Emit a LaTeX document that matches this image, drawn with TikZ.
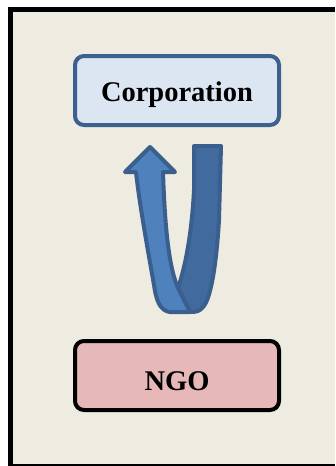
\documentclass[tikz,border=0pt]{standalone}
\usepackage{fontspec}
\setmainfont{Liberation Serif}
\definecolor{bg}{HTML}{EEEBE0}
\definecolor{corpfill}{HTML}{DCE6F2}
\definecolor{corpline}{HTML}{3C6090}
\definecolor{ngofill}{HTML}{E6B8B7}
\definecolor{arrlight}{HTML}{4F81BD}
\definecolor{arrdark}{HTML}{416A9E}
\definecolor{arrline}{HTML}{3A5F8E}
\tikzset{
  box/.style={rectangle, rounded corners=9pt, line width=4pt, minimum width=204pt, minimum height=69pt, font=\bfseries\fontsize{28.5}{30}\selectfont, inner sep=0pt, text depth=0pt},
  band/.style={draw=arrline, line width=4pt, line join=round}
}
\begin{document}
\begin{tikzpicture}[x=1pt,y=-1pt]
\useasboundingbox (0,0) rectangle (335,466);
\fill[white] (0,0) rectangle (335,466);
\fill[black] (8,7) rectangle (335,466);
\fill[bg] (13,12) rectangle (335,464);
\node[box, draw=corpline, fill=corpfill, text height=22pt] (corp) at (177,90.5) {Corporation};
\node[box, draw=black, fill=ngofill, text height=29pt] (ngo) at (177,375.5) {NGO};
% back (dark) arm of the U-turn arrow
\filldraw[band, fill=arrdark] (194,146) -- (221,146) -- (219,220)
  .. controls (216,270) and (210,300) .. (203,307)
  .. controls (200,311) and (197,312) .. (190,312)
  -- (178,288)
  .. controls (186,265) and (192,230) .. (194,190) -- cycle;
% front (light) arm with arrow head
\filldraw[band, fill=arrlight] (150,147) -- (175,172) -- (163,172)
  .. controls (165,235) and (170,270) .. (178,288)
  -- (190,312) -- (170,312)
  .. controls (160,311) and (156,300) .. (154,285)
  .. controls (146,240) and (139,200) .. (136,172)
  -- (125,172) -- cycle;
\end{tikzpicture}
\end{document}
